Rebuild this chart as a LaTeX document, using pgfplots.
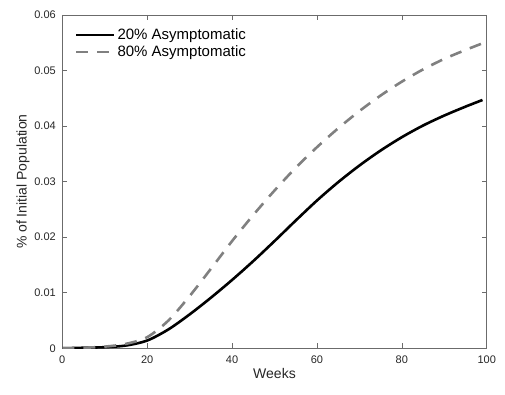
\documentclass[border=0pt]{standalone}
\usepackage{pgfplots}
\pgfplotsset{compat=1.18}
\usepackage{fontspec}
\setmainfont{Liberation Sans}
\definecolor{axgray}{gray}{0.42}
\definecolor{txtgray}{gray}{0.15}
\definecolor{dashgray}{gray}{0.5}
\begin{document}
\begin{tikzpicture}
\begin{axis}[
  scale only axis,
  width=424.4pt, height=333.3pt,
  xmin=0, xmax=100, ymin=0, ymax=0.06,
  xtick={0,20,40,60,80,100},
  ytick={0,0.01,0.02,0.03,0.04,0.05,0.06},
  yticklabels={0,0.01,0.02,0.03,0.04,0.05,0.06},
  scaled y ticks=false,
  tick align=inside,
  major tick length=5pt,
  axis line style={axgray, line width=0.6pt},
  every tick/.style={axgray, line width=0.6pt},
  ticklabel style={font=\fontsize{11}{13}\selectfont, text=txtgray},
  /pgf/number format/assume math mode=true,
  xticklabel style={yshift=-4pt},
  yticklabel style={xshift=-3pt},
  xlabel={Weeks},
  ylabel={\% of Initial Population},
  label style={font=\fontsize{14}{16}\selectfont, text=txtgray},
  xlabel style={yshift=2pt},
  ylabel style={yshift=-2pt},
  legend style={at={(rel axis cs:0.027,0.968)}, anchor=north west, draw=none, fill=none,
    font=\fontsize{15}{17.5}\selectfont, row sep=0.5pt, inner sep=1pt},
  legend cell align=left,
  legend image code/.code={\draw[#1] (0pt,0pt) -- (38pt,0pt);},
]
\addplot[black, line width=2.6pt, smooth] coordinates {
(0,0) (5,0.0001) (10,0.0002) (15,0.0005) (20,0.0014) (25,0.0034) (30,0.0061)
(35,0.0091) (40,0.0123) (45,0.0157) (50,0.0193) (55,0.0230) (60,0.0266)
(65,0.0299) (70,0.0329) (75,0.0356) (80,0.0380) (85,0.0401) (90,0.0419)
(95,0.0435) (99,0.0447)};
\addlegendentry{20\% Asymptomatic}
\addplot[dashgray, line width=2.6pt, dash pattern=on 12pt off 9pt, smooth] coordinates {
(0,0) (5,0.0001) (10,0.0003) (15,0.0008) (20,0.0020) (25,0.0050) (30,0.0094)
(35,0.0143) (40,0.0193) (45,0.0240) (50,0.0284) (55,0.0325) (60,0.0362)
(65,0.0396) (70,0.0427) (75,0.0455) (80,0.0480) (85,0.0502) (90,0.0521)
(95,0.0537) (99,0.0549)};
\addlegendentry{80\% Asymptomatic}
\end{axis}
\pgfresetboundingbox
\path[use as bounding box] (-62.3pt,-46.7pt) rectangle (442.7pt,348.3pt);
\end{tikzpicture}
\end{document}
